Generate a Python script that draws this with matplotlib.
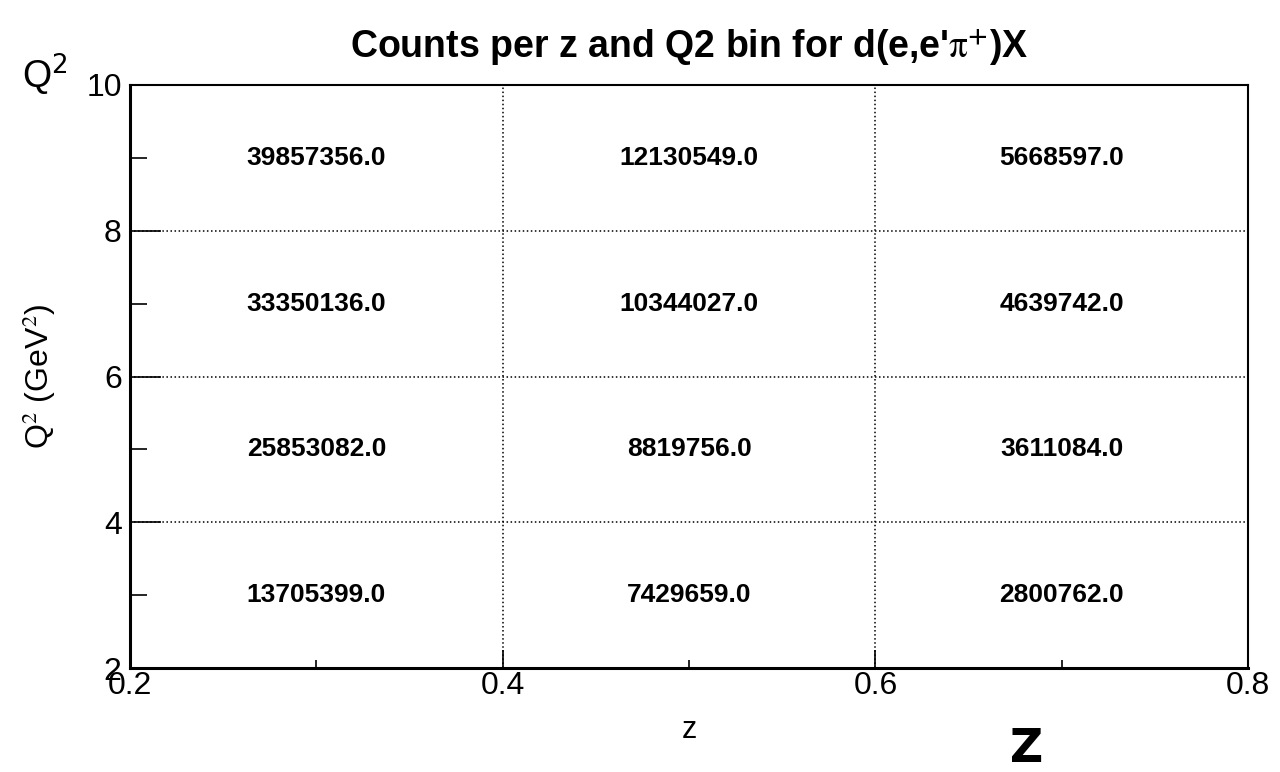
import numpy as np
import matplotlib
matplotlib.use("Agg")
import matplotlib.pyplot as plt
from matplotlib.ticker import MultipleLocator

plt.rcParams['font.family'] = ['Liberation Sans', 'DejaVu Sans']
plt.rcParams['mathtext.fontset'] = 'stix'

# bin edges
z_edges = [0.2, 0.4, 0.6, 0.8]
q2_edges = [2, 4, 6, 8, 10]

# counts per bin, rows = Q2 bins (low -> high), cols = z bins
counts_q2_2_4 = [13705399.0, 7429659.0, 2800762.0]
counts_q2_4_6 = [25853082.0, 8819756.0, 3611084.0]
counts_q2_6_8 = [33350136.0, 10344027.0, 4639742.0]
counts_q2_8_10 = [39857356.0, 12130549.0, 5668597.0]
counts = [counts_q2_2_4, counts_q2_4_6, counts_q2_6_8, counts_q2_8_10]

fig = plt.figure(figsize=(12.8, 7.72), dpi=100)
ax = fig.add_axes([0.1016, 0.1347, 0.8735, 0.7552])
ax.set_xlim(z_edges[0], z_edges[-1])
ax.set_ylim(q2_edges[0], q2_edges[-1])

# dotted grid on the bin edges
ax.grid(True, which='major', linestyle=':', color='black', linewidth=1.1)

# write the counts in the middle of each bin
for i in range(len(q2_edges) - 1):
    yc = 0.5 * (q2_edges[i] + q2_edges[i + 1])
    for j in range(len(z_edges) - 1):
        xc = 0.5 * (z_edges[j] + z_edges[j + 1])
        ax.text(xc, yc, '%.1f' % counts[i][j], ha='center', va='center',
                fontsize=19, fontweight='bold')

ax.xaxis.set_minor_locator(MultipleLocator(0.1))
ax.yaxis.set_major_locator(MultipleLocator(2))
ax.yaxis.set_minor_locator(MultipleLocator(1))
ax.set_xticks(z_edges)
ax.set_xticklabels(['0.2', '0.4', '0.6', '0.8'])
ax.tick_params(axis='x', which='major', direction='in', length=13, width=1.2,
               labelsize=23, pad=2, top=False)
ax.tick_params(axis='x', which='minor', direction='in', length=6, width=1.2, top=False)
ax.tick_params(axis='y', which='major', direction='in', length=22, width=1.2,
               labelsize=23, pad=6, right=False)
ax.tick_params(axis='y', which='minor', direction='in', length=12, width=1.2, right=False)

for s in ['left', 'bottom']:
    ax.spines[s].set_linewidth(2.2)
for s in ['top', 'right']:
    ax.spines[s].set_linewidth(1.5)

ax.set_title(r"Counts per z and Q2 bin for d(e,e'$\mathrm{\pi}^{\mathbf{+}}$)X",
             fontsize=27, fontweight='bold', pad=20)
ax.set_xlabel('z', fontsize=22, labelpad=10)
ax.set_ylabel(r'Q$^{2}$ (GeV$^{2}$)', fontsize=23, labelpad=20)

fig.text(45 / 1280, 1 - 75 / 772, r'Q$^{2}$', fontsize=27, ha='center', va='center',
         math_fontfamily='dejavusans')
fig.text(1027 / 1280, 1 - 749 / 772, 'Z', fontsize=33, ha='center', va='center',
         family=['Liberation Sans Narrow', 'DejaVu Sans'], fontweight='bold')

fig.savefig('out.png', dpi=100)
